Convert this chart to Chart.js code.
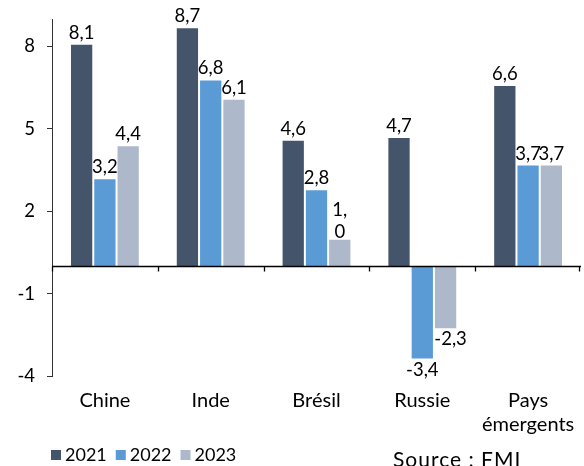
<!DOCTYPE html>
<html lang="fr">
<head>
<meta charset="utf-8">
<script src="https://cdn.jsdelivr.net/npm/chart.js"></script>
<style>
  html, body { margin: 0; padding: 0; background: #fff; }
  #wrap { position: relative; width: 584px; height: 466px; overflow: hidden; }
  #source {
    position: absolute; left: 393px; top: 448px;
    font: 21px Lato, sans-serif; line-height: 1; color: #000;
    letter-spacing: 1px; white-space: nowrap;
  }
</style>
</head>
<body>
<div id="wrap">
  <canvas id="chart" width="584" height="466"></canvas>
  <div id="source">Source : FMI</div>
</div>
<script>
// Croissance du PIB (%), par pays
const categories = ['Chine', 'Inde', 'Brésil', 'Russie', ['Pays', 'émergents']];
const years = ['2021', '2022', '2023'];
const values2021 = [8.1, 8.7, 4.6, 4.7, 6.6];
const values2022 = [3.2, 6.8, 2.8, -3.4, 3.7];
const values2023 = [4.4, 6.1, 1.0, -2.3, 3.7];
const yTicks = [-4, -1, 2, 5, 8];

const colors = ['#44546A', '#5B9BD5', '#ADB9CA'];
const FONT = 'Lato, sans-serif';

const fmt = (v) => v.toFixed(1).replace('.', ',');

// value labels, zero line with category ticks, and the legend row
const decorations = {
  id: 'decorations',
  afterDatasetsDraw(chart, args, opts) {
    const { ctx, chartArea } = chart;
    const x = chart.scales.x;
    const y = chart.scales.y;
    const zeroY = Math.round(y.getPixelForValue(0)) + 0.5;

    ctx.save();
    // axis line at zero
    ctx.strokeStyle = '#000';
    ctx.lineWidth = 1.3;
    ctx.beginPath();
    ctx.moveTo(chartArea.left, zeroY);
    ctx.lineTo(chartArea.right, zeroY);
    const n = chart.data.labels.length;
    const step = x.getPixelForValue(1) - x.getPixelForValue(0);
    for (let i = 0; i <= n; i += 1) {
      const bx = Math.round(x.getPixelForValue(i) - step / 2) + 0.5;
      const px = Math.min(bx, chartArea.right - 1.5);
      ctx.moveTo(px, zeroY);
      ctx.lineTo(px, zeroY + 5);
    }
    ctx.stroke();

    // value labels
    ctx.font = `18.5px ${FONT}`;
    ctx.fillStyle = '#000';
    ctx.textAlign = 'center';
    ctx.textBaseline = 'alphabetic';
    chart.data.datasets.forEach((ds, di) => {
      chart.getDatasetMeta(di).data.forEach((bar, i) => {
        const v = ds.data[i];
        const text = fmt(v);
        const split = opts.split.some(([d, k]) => d === di && k === i);
        if (v >= 0) {
          if (split) {
            const lines = [text.slice(0, 2), text.slice(2)];
            ctx.fillText(lines[1], bar.x, bar.y - 1);
            ctx.fillText(lines[0], bar.x, bar.y - 23);
          } else {
            ctx.fillText(text, bar.x, bar.y - 5);
          }
        } else {
          ctx.fillText(text, bar.x + (di === 2 ? 5 : 0), bar.y + 16);
        }
      });
    });

    // legend
    ctx.font = `18px ${FONT}`;
    let lx = 51;
    const ly = 450;
    chart.data.datasets.forEach((ds) => {
      ctx.fillStyle = ds.backgroundColor;
      ctx.fillRect(lx, ly, 10, 10);
      ctx.fillStyle = '#000';
      ctx.textAlign = 'left';
      ctx.fillText(ds.label, lx + 14, ly + 11);
      lx += 14 + ctx.measureText(ds.label).width + 9;
    });
    ctx.restore();
  },
};

new Chart(document.getElementById('chart'), {
  type: 'bar',
  data: {
    labels: categories,
    datasets: [values2021, values2022, values2023].map((data, i) => ({
      label: years[i],
      data,
      backgroundColor: colors[i],
      borderColor: 'rgba(255,255,255,0.5)',
      borderWidth: 1,
      categoryPercentage: 0.66,
      barPercentage: 1,
    })),
  },
  options: {
    responsive: false,
    animation: false,
    devicePixelRatio: 1,
    layout: { padding: { top: 19, right: 3, left: 0, bottom: 0 } },
    plugins: {
      legend: { display: false },
      tooltip: { enabled: false },
      decorations: { split: [[2, 2]] },
    },
    scales: {
      x: {
        grid: { display: false },
        border: { display: false },
        afterFit(scale) { scale.height = 90; },
        ticks: {
          font: { family: FONT, size: 20 },
          color: '#000',
          padding: 5,
          maxRotation: 0,
          autoSkip: false,
        },
      },
      y: {
        min: -4,
        max: 9,
        afterBuildTicks(scale) { scale.ticks = yTicks.map((v) => ({ value: v })); },
        afterFit(scale) {
          scale.width = 52;
          scale.paddingTop = 0;
          scale.paddingBottom = 0;
        },
        grid: { drawOnChartArea: false, tickLength: 5, tickColor: '#333' },
        border: { color: '#333', width: 1 },
        ticks: {
          font: { family: FONT, size: 18.5 },
          color: '#000',
          padding: 12,
          callback: (v) => String(v),
        },
      },
    },
  },
  plugins: [decorations],
});
</script>
</body>
</html>
